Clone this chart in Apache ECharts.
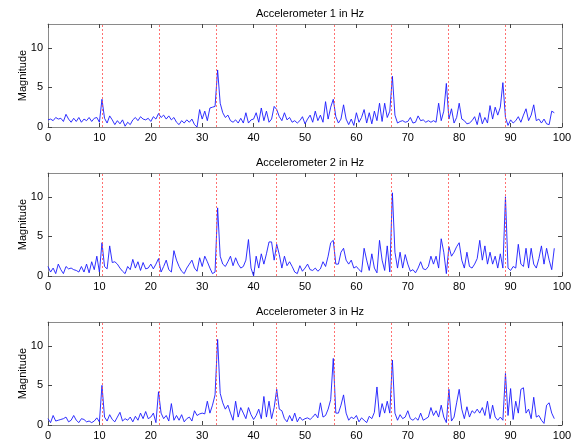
<!DOCTYPE html>
<html><head><meta charset="utf-8">
<script src="https://cdn.jsdelivr.net/npm/echarts@6/dist/echarts.min.js"></script>
<style>html,body{margin:0;padding:0;background:#fff}#c{width:577px;height:444px}</style>
</head><body><div id="c"></div>
<script>
// Frequency bins (Hz): 0, 0.5, ... 98.5
const freqStart = 0, freqStep = 0.5;
const titles = ['Accelerometer 1 in Hz', 'Accelerometer 2 in Hz', 'Accelerometer 3 in Hz'];
const xTicks = [0, 10, 20, 30, 40, 50, 60, 70, 80, 90, 100];
const yTicks = [0, 5, 10];
const harmonics = [10.6, 21.7, 32.8, 44.4, 55.6, 66.8, 77.9, 88.9];

const accel1 = [
 0.9,1.0,0.8,1.2,1.0,1.1,0.7,1.6,1.0,0.6,
 1.1,0.7,1.2,0.6,1.0,0.8,1.2,0.7,1.1,1.2,
 0.6,3.5,1.1,0.5,1.4,0.9,0.3,0.8,0.4,0.9,
 0.1,0.6,0.3,0.9,1.2,0.8,1.3,1.0,0.9,1.1,
 0.7,1.3,1.0,1.7,1.2,1.5,1.0,1.4,0.9,1.2,
 0.6,0.3,0.8,0.5,0.9,0.6,1.0,0.3,0.0,2.2,
 1.0,2.0,0.8,2.4,2.5,2.6,7.2,3.0,1.8,1.2,
 1.5,0.8,0.6,0.9,0.5,1.1,0.5,1.8,0.5,0.9,
 1.0,1.8,0.6,2.4,0.8,2.0,0.6,1.0,2.6,2.2,
 1.3,0.8,1.8,0.9,1.2,0.6,0.8,0.5,0.8,1.3,
 0.4,1.0,1.5,0.6,2.0,0.8,1.5,0.6,3.2,1.0,
 2.5,3.5,1.3,0.5,1.0,2.8,1.0,0.3,1.0,0.2,
 1.8,0.6,1.2,2.2,0.5,1.8,0.4,2.0,0.8,3.0,
 0.7,3.0,1.2,2.0,6.4,1.5,0.5,0.7,0.8,0.6,
 0.7,1.2,0.5,0.6,1.4,0.8,0.9,0.6,0.8,0.6,
 0.8,0.6,3.0,0.8,2.0,5.5,1.0,2.3,0.5,1.2,
 3.0,1.0,0.8,0.4,0.5,0.8,1.3,0.3,1.8,0.4,
 1.2,0.5,2.7,1.0,2.5,1.5,2.5,5.6,1.2,0.2,
 0.9,0.5,0.8,1.3,0.6,1.5,2.3,0.8,1.5,2.8,
 0.8,1.0,0.5,1.0,0.4,0.3,2.0,1.8
];
const accel2 = [
 1.2,0.5,1.0,0.3,1.5,0.8,0.3,1.2,0.9,1.0,
 0.8,0.7,0.5,1.2,0.5,1.5,0.4,1.8,0.8,2.5,
 0.5,4.2,1.2,0.9,3.8,1.7,1.8,1.5,1.0,0.6,
 0.3,1.2,0.8,2.1,1.0,1.8,0.7,1.7,0.9,1.0,
 1.5,0.9,1.5,2.2,0.5,1.2,2.0,0.8,0.5,3.2,
 2.0,1.2,0.6,0.3,1.0,1.5,2.0,1.0,0.6,2.3,
 1.2,2.5,1.8,1.0,0.3,0.5,8.6,2.5,1.5,1.2,
 1.8,2.5,1.3,2.3,1.5,1.0,1.2,2.0,4.6,1.0,
 0.0,2.5,1.0,2.8,1.5,2.8,4.3,4.3,2.0,4.0,
 2.7,1.0,2.5,1.3,1.8,1.2,0.5,0.3,1.3,0.6,
 1.0,1.5,0.8,0.7,1.0,0.6,0.9,1.8,1.2,2.5,
 4.2,4.5,1.5,1.5,3.0,3.5,2.0,1.5,2.0,1.0,
 1.2,0.8,0.5,3.5,2.0,0.7,2.8,1.0,0.4,4.5,
 2.0,0.7,3.8,0.5,10.5,3.0,1.0,3.0,1.0,2.7,
 1.5,0.6,0.8,0.4,1.0,1.8,0.9,0.8,1.2,2.5,
 1.5,2.5,1.0,4.7,3.0,0.3,3.7,2.5,3.0,3.7,
 4.2,2.0,1.0,3.0,1.2,1.0,1.5,2.2,4.5,2.0,
 3.8,1.5,3.0,1.5,2.5,1.0,2.8,1.0,10.0,1.0,
 0.7,1.2,1.0,4.0,1.5,1.2,3.5,1.0,3.5,1.5,
 1.0,2.2,3.8,1.5,3.5,2.0,0.8,3.5
];
const accel3 = [
 0.8,0.3,1.2,0.5,0.6,0.7,0.8,1.0,0.4,0.6,
 1.2,0.6,0.3,0.8,0.7,0.4,0.5,0.3,0.5,0.9,
 0.4,5.0,1.0,0.5,1.3,0.7,0.4,1.0,1.6,0.5,
 0.8,0.6,1.0,0.4,1.1,0.6,1.5,0.8,1.7,0.8,
 1.0,1.5,0.3,4.2,1.5,0.8,1.2,0.5,2.7,0.6,
 1.2,0.6,1.3,0.4,0.8,1.0,0.5,1.8,1.2,1.4,
 1.5,1.4,3.0,1.5,2.5,3.8,10.8,4.0,2.8,2.0,
 2.5,1.5,0.6,3.0,1.0,2.2,1.5,0.8,2.2,1.3,
 0.7,1.2,2.0,0.8,3.6,1.0,3.0,0.8,2.2,4.5,
 2.0,1.8,0.8,0.4,1.2,0.5,1.5,0.4,1.0,0.6,
 0.8,0.9,0.7,1.0,1.4,0.9,2.8,1.0,1.2,2.0,
 3.2,8.4,1.5,1.5,2.5,3.8,1.5,0.6,1.0,0.8,
 1.2,0.4,0.9,0.6,0.3,1.1,0.8,1.6,4.8,1.0,
 2.7,1.5,3.0,1.5,8.2,1.5,0.6,1.3,0.8,1.0,
 1.8,0.8,0.6,0.9,0.6,1.5,0.6,0.8,1.0,2.2,
 1.2,1.8,1.0,2.5,1.0,0.3,4.5,0.5,1.0,2.8,
 4.5,2.0,0.8,2.3,1.0,1.8,1.5,2.0,1.5,2.2,
 1.2,3.0,0.8,2.5,1.0,0.6,1.0,0.6,6.5,1.2,
 4.6,0.7,3.0,1.5,4.5,4.7,1.5,2.0,0.8,3.5,
 1.0,1.2,0.6,0.2,2.5,2.8,1.5,0.8
];

const seriesValues = [accel1, accel2, accel3];
const tops = [24, 173, 322];
const gridH = 103;
const font = '"Liberation Sans", Arial, Helvetica, sans-serif';
const boxColor = '#8a8a8a';
const tickColor = '#444';

const option = {
  animation: false,
  backgroundColor: '#fff',
  title: [], grid: [], xAxis: [], yAxis: [], series: []
};

seriesValues.forEach((vals, i) => {
  option.title.push({
    text: titles[i], left: 305, top: tops[i] - 21, textAlign: 'center',
    textStyle: { fontFamily: font, fontSize: 11, fontWeight: 'normal', color: '#000' }
  });
  option.grid.push({ left: 48, right: 15, top: tops[i], height: gridH });
  const base = {
    gridIndex: i, type: 'value', min: 0, max: 100, interval: 10,
    splitLine: { show: false },
    axisLine: { show: true, onZero: false, lineStyle: { color: boxColor, width: 1 } },
    axisTick: { show: true, inside: true, length: 4, lineStyle: { color: tickColor } }
  };
  option.xAxis.push(Object.assign({}, base, {
    position: 'bottom',
    axisLabel: { show: true, margin: 5, fontFamily: font, fontSize: 11, color: '#000',
                 customValues: xTicks },
    axisTick: Object.assign({}, base.axisTick, { customValues: xTicks })
  }));
  option.xAxis.push(Object.assign({}, base, {
    position: 'top', axisLabel: { show: false },
    axisTick: Object.assign({}, base.axisTick, { customValues: xTicks })
  }));
  const ybase = {
    gridIndex: i, type: 'value', min: 0, max: 13,
    splitLine: { show: false },
    axisLine: { show: true, onZero: false, lineStyle: { color: boxColor, width: 1 } }
  };
  option.yAxis.push(Object.assign({}, ybase, {
    position: 'left',
    name: 'Magnitude', nameLocation: 'middle', nameGap: 20, nameRotate: 90,
    nameMoveOverlap: false,
    nameTextStyle: { fontFamily: font, fontSize: 11, color: '#000' },
    axisLabel: { show: true, margin: 5, fontFamily: font, fontSize: 11, color: '#000',
                 customValues: yTicks },
    axisTick: { show: true, inside: true, length: 4, lineStyle: { color: tickColor }, customValues: yTicks }
  }));
  option.yAxis.push(Object.assign({}, ybase, {
    position: 'right', axisLabel: { show: false },
    axisTick: { show: true, inside: true, length: 4, lineStyle: { color: tickColor }, customValues: yTicks }
  }));
  option.series.push({
    type: 'line', xAxisIndex: i * 2, yAxisIndex: i * 2,
    data: vals.map((v, k) => [freqStart + k * freqStep, v]),
    showSymbol: false, symbol: 'none',
    lineStyle: { color: '#1a1aff', width: 0.9 },
    markLine: {
      silent: true, symbol: ['none', 'none'], label: { show: false },
      lineStyle: { color: '#ff5050', type: [2, 2], width: 0.9, opacity: 0.9 },
      data: harmonics.map(h => ({ xAxis: h }))
    }
  });
});

const chart = echarts.init(document.getElementById('c'), null, { renderer: 'canvas' });
chart.setOption(option);
</script>
</body></html>
